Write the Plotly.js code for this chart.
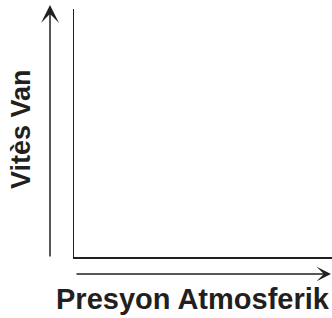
<!DOCTYPE html>
<html>
<head>
<meta charset="utf-8">
<script src="https://cdn.plot.ly/plotly-3.0.1.min.js"></script>
<style>
  html, body { margin: 0; padding: 0; background: #ffffff; }
  #chart { width: 332px; height: 318px; }
</style>
</head>
<body>
<div id="chart"></div>
<script>
// Conceptual diagram: no data points, only labelled axes with arrows
const xValues = [];
const yValues = [];
const xAxisLabel = "Presyon Atmosferik";
const yAxisLabel = "Vitès Van";

const W = 332, H = 318;
const margin = { l: 74, r: 0, t: 9, b: 61 };
const plotW = W - margin.l - margin.r;
const plotH = H - margin.t - margin.b;
const px2x = p => (p - margin.l) / plotW;
const px2y = p => (H - margin.b - p) / plotH;

const fontFamily = "Liberation Sans, Arial, Helvetica, sans-serif";
const lineColor = "#231f20";

const trace = { x: xValues, y: yValues, type: "scatter", mode: "markers", showlegend: false, hoverinfo: "skip" };

const axisBase = {
  range: [0, 1], showgrid: false, zeroline: false, showticklabels: false, ticks: "",
  showline: true, linecolor: lineColor, linewidth: 1.5, fixedrange: true
};

const layout = {
  width: W, height: H,
  margin: margin,
  paper_bgcolor: "#ffffff", plot_bgcolor: "#ffffff",
  showlegend: false,
  xaxis: Object.assign({}, axisBase),
  yaxis: Object.assign({}, axisBase),
  annotations: [
    { xref: "paper", yref: "paper", x: px2x(50), y: px2y(5), text: "", showarrow: true,
      ax: 0, ay: 253, arrowhead: 3, arrowsize: 2, arrowwidth: 1.5, arrowcolor: lineColor },
    { xref: "paper", yref: "paper", x: px2x(331), y: px2y(274), text: "", showarrow: true,
      ax: -256, ay: 0, arrowhead: 3, arrowsize: 1.6, arrowwidth: 1.5, arrowcolor: lineColor },
    { xref: "paper", yref: "paper", x: px2x(193), y: px2y(299), xanchor: "center", yanchor: "middle",
      text: xAxisLabel, showarrow: false,
      font: { family: fontFamily, size: 29, color: lineColor, weight: "bold" } },
    { xref: "paper", yref: "paper", x: px2x(21), y: px2y(129), xanchor: "center", yanchor: "middle",
      text: yAxisLabel, showarrow: false, textangle: -90,
      font: { family: fontFamily, size: 27, color: lineColor, weight: "bold" } }
  ]
};

Plotly.newPlot("chart", [trace], layout, { staticPlot: true, displayModeBar: false });
</script>
</body>
</html>
